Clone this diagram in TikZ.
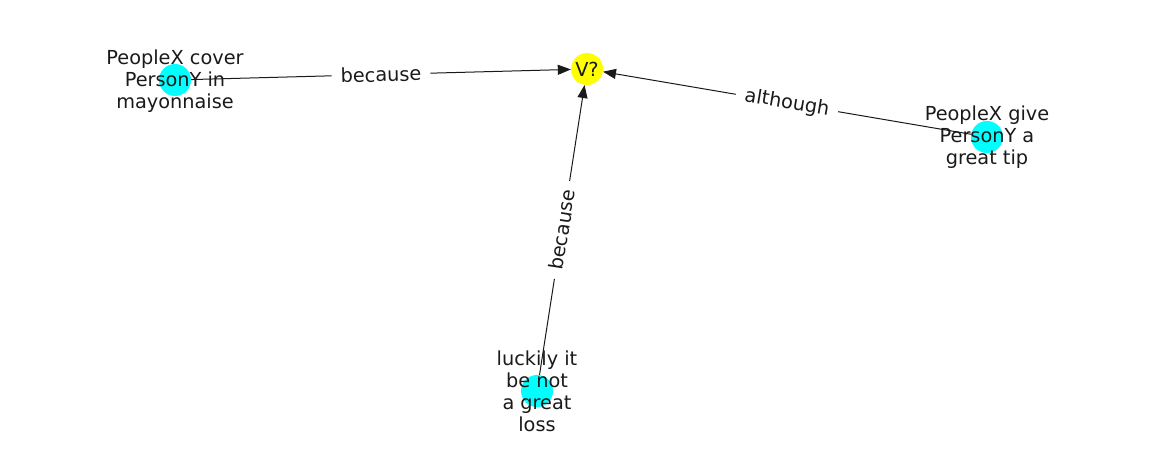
\documentclass[tikz,border=0pt]{standalone}
\usepackage{fontspec}
\setmainfont{DejaVu Sans}
\usetikzlibrary{arrows.meta}
\definecolor{nodecyan}{RGB}{0,255,255}
\definecolor{nodeyellow}{RGB}{255,255,0}
\definecolor{txt}{RGB}{26,26,26}
\begin{document}
\begin{tikzpicture}[x=1pt,y=-1pt,
  dot/.style={circle,minimum size=32pt,inner sep=0pt},
  lbl/.style={font=\fontsize{19.3}{22}\selectfont,align=center,text=txt},
  elbl/.style={fill=white,inner xsep=9pt,inner ysep=4pt,font=\fontsize{19.3}{22}\selectfont,text=txt},
  edge/.style={-{Triangle[length=13pt,width=10pt]},line width=1pt,draw=txt}]
\useasboundingbox[fill=white] (0,0) rectangle (1162,462);
\node[dot,fill=nodeyellow,lbl] (v) at (587,69) {V?};
\node[dot,fill=nodecyan] (a) at (175,80) {};
\node[dot,fill=nodecyan] (b) at (987,137) {};
\node[dot,fill=nodecyan] (c) at (537,391) {};
\draw[edge] (a) -- (v);
\draw[edge] (b) -- (v);
\draw[edge] (c) -- (v);
\path (a.center) -- (v.center) node[midway,sloped,elbl] (la) {because};
\path (b.center) -- (v.center) node[midway,sloped,elbl] (lb) {although};
\path (c.center) -- (v.center) node[midway,sloped,elbl] (lc) {because};
\node[lbl] (ta) at (175,81) {PeopleX cover\\PersonY in\\mayonnaise};
\node[lbl] (tb) at (987,137) {PeopleX give\\PersonY a\\great tip};
\node[lbl] (tc) at (537,391) {luckily it\\be not\\a great\\loss};
\end{tikzpicture}
\end{document}
